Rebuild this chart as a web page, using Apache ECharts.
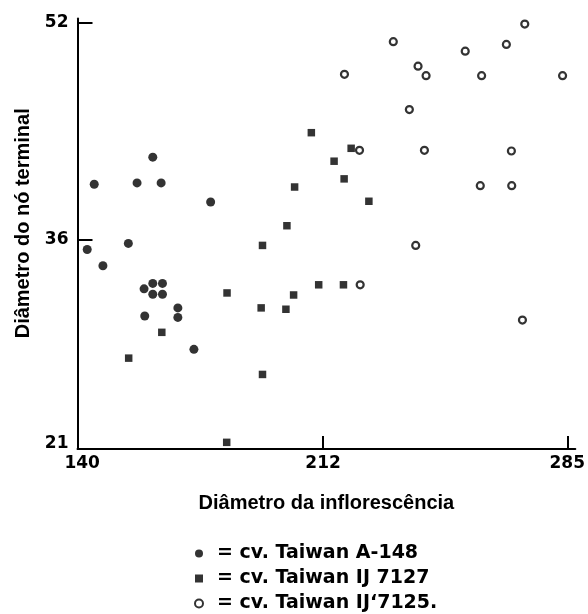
<!DOCTYPE html>
<html>
<head>
<meta charset="utf-8">
<script src="https://cdn.jsdelivr.net/npm/echarts@6/dist/echarts.min.js"></script>
<style>
html,body{margin:0;padding:0;background:#fff;}
#chart{width:588px;height:614px;}
</style>
</head>
<body>
<div id="chart"></div>
<script>
// ---- data ----
const seriesNames = ['cv. Taiwan A-148', 'cv. Taiwan IJ 7127', 'cv. Taiwan IJ\u20187125.'];

const a148X = [143.6,156.4,163.6,161.1,178.4,141.5,153.8,146.2,158.5,161.1,164.0,161.1,164.0,158.7,168.6,168.6,173.4];
const a148Y = [40.1,40.2,40.2,42.1,38.8,35.3,35.75,34.1,32.4,32.8,32.8,32.0,32.0,30.4,31.0,30.3,27.95];

const ij7127X = [153.9,163.8,183.3,193.9,193.5,200.9,203.2,193.9,183.2,201.2,203.5,208.5,220.4,215.3,218.3,225.7,210.7,218.1];
const ij7127Y = [27.3,29.2,32.1,35.6,31.0,30.9,31.95,26.1,21.1,37.05,39.9,43.9,42.75,41.8,40.5,38.85,32.7,32.7];

const ij7125X = [272.3,233.0,266.8,254.5,240.4,242.8,218.4,259.4,283.6,237.8,222.9,242.3,268.3,259.0,268.4,239.7,223.1,271.6];
const ij7125Y = [51.9,50.6,50.4,49.9,48.8,48.1,48.2,48.1,48.1,45.6,42.6,42.6,42.55,40.0,40.0,35.6,32.7,30.1];

const xTickLabels = [140, 212, 285];
const xTickMarks = [212, 285];
const yTickLabels = [21, 36, 52];
const yTickMarks = [36, 52];

const xTitle = 'Diâmetro da inflorescência';
const yTitle = 'Diâmetro do nó terminal';

function pairs(xs, ys) { return xs.map((x, i) => [x, ys[i]]); }

const chart = echarts.init(document.getElementById('chart'), null, {renderer: 'canvas'});
const numFont = {fontFamily: 'DejaVu Sans', fontWeight: 'bold', fontSize: 17, color: '#000'};
const titleFont = {fontFamily: 'Liberation Sans', fontWeight: 'bold', fontSize: 20, color: '#000'};

chart.setOption({
  backgroundColor: '#fff',
  animation: false,
  grid: {left: 77.5, right: 5, top: 18.6, bottom: 165, containLabel: false},
  xAxis: {
    type: 'value', min: 138.6, max: 287.4,
    splitLine: {show: false},
    axisLine: {show: true, onZero: false, lineStyle: {color: '#000', width: 2}},
    axisTick: {show: true, inside: true, length: 13, customValues: xTickMarks, lineStyle: {color: '#000', width: 2}},
    axisLabel: {show: true, margin: 6, customValues: xTickLabels, ...numFont},
    name: xTitle, nameLocation: 'middle', nameGap: 44,
    nameTextStyle: titleFont
  },
  yAxis: {
    type: 'value', min: 20.61, max: 52.3,
    splitLine: {show: false},
    axisLine: {show: true, onZero: false, lineStyle: {color: '#000', width: 2}},
    axisTick: {show: true, inside: true, length: 15, customValues: yTickMarks, lineStyle: {color: '#000', width: 2}},
    axisLabel: {show: true, margin: 9, customValues: yTickLabels, ...numFont},
    name: yTitle, nameLocation: 'middle', nameGap: 44,
    nameTextStyle: Object.assign({padding: [0, 0, 0, 21]}, titleFont)
  },
  legend: {
    orient: 'vertical', left: 194, top: 544, itemGap: 6, padding: 0,
    itemWidth: 8, itemHeight: 8,
    data: [
      {name: seriesNames[0], icon: 'circle'},
      {name: seriesNames[1], icon: 'rect'},
      {name: seriesNames[2], icon: 'circle'}
    ],
    formatter: n => '= ' + n,
    textStyle: {fontFamily: 'DejaVu Sans', fontWeight: 'bold', fontSize: 19, lineHeight: 19, color: '#000', padding: [0, 0, 0, 9]}
  },
  series: [
    {name: seriesNames[0], type: 'scatter', symbol: 'circle', symbolSize: 9,
     itemStyle: {color: '#000'}, data: pairs(a148X, a148Y)},
    {name: seriesNames[1], type: 'scatter', symbol: 'rect', symbolSize: 7.5,
     itemStyle: {color: '#000'}, data: pairs(ij7127X, ij7127Y)},
    {name: seriesNames[2], type: 'scatter', symbol: 'circle', symbolSize: 7,
     itemStyle: {color: '#fff', borderColor: '#000', borderWidth: 2.2}, data: pairs(ij7125X, ij7125Y)}
  ]
});
</script>
</body>
</html>
